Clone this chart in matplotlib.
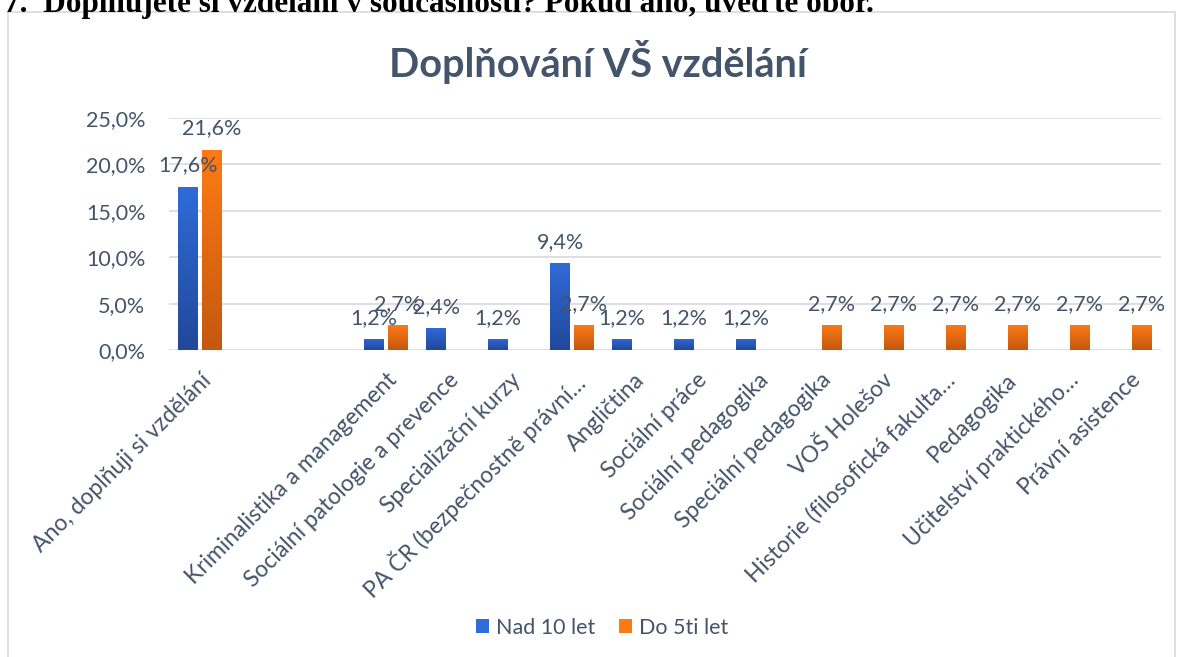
import numpy as np
import matplotlib.pyplot as plt
from matplotlib.patches import Rectangle, Patch
from matplotlib.colors import LinearSegmentedColormap

plt.rcParams['font.family'] = ['Lato', 'DejaVu Sans']

# data
categories = ['Ano, doplňuji si vzdělání', '', '', 'Kriminalistika a management',
              'Sociální patologie a prevence', 'Specializační kurzy',
              'PA ČR (bezpečnostně právní…', 'Angličtina', 'Sociální práce',
              'Sociální pedagogika', 'Speciální pedagogika', 'VOŠ Holešov',
              'Historie (filosofická fakulta…', 'Pedagogika', 'Učitelství praktického…',
              'Právní asistence']
nad_10 = [17.6, 0, 0, 1.2, 2.4, 1.2, 9.4, 1.2, 1.2, 1.2, 0, 0, 0, 0, 0, 0]
do_5 = [21.6, 0, 0, 2.7, 0, 0, 2.7, 0, 0, 0, 2.7, 2.7, 2.7, 2.7, 2.7, 2.7]
series_names = ['Nad 10 let', 'Do 5ti let']
yticks = [0, 5, 10, 15, 20, 25]

text_col = '#44546A'
blue_top, blue_bot = '#2F6BD9', '#21489A'
orange_top, orange_bot = '#FF7A15', '#C4580F'

fig = plt.figure(figsize=(11.8, 6.57), dpi=100)

# heading of the document (cut at the top)
fig.text(0.003, 0.981, '7.  Doplňujete si vzdělání v současnosti? Pokud ano, uveďte obor.',
         family='Liberation Serif', fontweight='bold', fontsize=22.5, va='baseline', ha='left')

# chart frame
fig.patches.append(Rectangle((8 / 1180, -0.01), 1167 / 1180, (657 - 12) / 657 + 0.01,
                             transform=fig.transFigure, fill=False,
                             edgecolor='#D9D9D9', linewidth=1.2))

ax = fig.add_axes([169 / 1180, 307 / 657, 992 / 1180, 232 / 657])

x = np.arange(len(categories))
w = 0.32
off = 0.19

def gradient_bars(xs, vals, top, bot):
    cmap = LinearSegmentedColormap.from_list('g', [bot, top])
    bars = ax.bar(xs, vals, w, color=top, zorder=3)
    grad = np.linspace(0, 1, 100).reshape(-1, 1)
    for b in bars:
        if b.get_height() <= 0:
            continue
        x0, y0 = b.get_x(), b.get_y()
        im = ax.imshow(grad, cmap=cmap, aspect='auto', origin='lower',
                       extent=(x0, x0 + b.get_width(), y0, y0 + b.get_height()), zorder=4)
        im.set_clip_path(b)
    return bars

b1 = gradient_bars(x - off, nad_10, blue_top, blue_bot)
b2 = gradient_bars(x + off, do_5, orange_top, orange_bot)

for xs, vals in ((x - off, nad_10), (x + off, do_5)):
    for xi, v in zip(xs, vals):
        if v > 0:
            ax.annotate(f'{v:.1f}%'.replace('.', ','), (xi, v), xytext=(0, 8),
                        textcoords='offset points', ha='center', va='bottom',
                        fontsize=15.5, color=text_col, zorder=6)

ax.set_xlim(-0.5, len(categories) - 0.5)
ax.set_ylim(0, 25)
ax.set_yticks(yticks)
ax.set_yticklabels([f'{t:.1f}%'.replace('.', ',') for t in yticks], fontsize=15.5, color=text_col)
ax.set_xticks(x)
ax.set_xticklabels(categories, rotation=45, ha='right', rotation_mode='anchor',
                   fontsize=16.5, color=text_col)
ax.tick_params(length=0)
ax.tick_params(axis='y', pad=17)
ax.tick_params(axis='x', pad=14)
ax.grid(axis='y', color='#D9D9D9', linewidth=1.2, zorder=0)
for s in ax.spines.values():
    s.set_visible(False)
ax.set_facecolor('none')

fig.text(598 / 1180, 1 - 62 / 657, 'Doplňování VŠ vzdělání', ha='center', va='center',
         fontsize=28.5, fontweight='bold', color=text_col)

handles = [Patch(facecolor=blue_top, edgecolor='none'), Patch(facecolor=orange_top, edgecolor='none')]
fig.legend(handles, series_names, loc='center', bbox_to_anchor=(602 / 1180, 1 - 628 / 657),
           ncol=2, frameon=False, fontsize=15.5, labelcolor=text_col,
           handlelength=0.62, handleheight=0.62, handletextpad=0.3, columnspacing=1.1)

fig.savefig('out.png', dpi=100)
